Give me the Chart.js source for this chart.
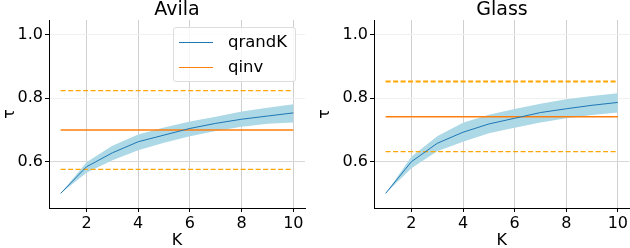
<!DOCTYPE html>
<html>
<head>
<meta charset="UTF-8">
<title>qrandK vs qinv</title>
<script src="https://cdn.jsdelivr.net/npm/chart.js@4.4.0/dist/chart.umd.min.js"></script>
<style>
  body { margin: 0; background: #fff; font-family: "DejaVu Sans", sans-serif; }
  .panel { position: absolute; top: 0; width: 315px; height: 248px; }
  #left { left: 0; }
  #right { left: 315px; }
  .ttl { position: absolute; top: -3px; font-size: 19px; line-height: 22px; color: #000; text-align: center; }
  .legend {
    position: absolute; left: 173px; top: 27px; width: 123px; height: 55px;
    border: 1px solid #ddd; border-radius: 3px; background: rgba(255,255,255,0.8);
    font-size: 16.5px; color: #000; box-sizing: border-box;
  }
  .legend div { position: absolute; left: 5px; height: 20px; line-height: 20px; }
  .legend span.sw { position: absolute; left: 0; top: 10px; width: 34px; height: 0; }
  .legend span.tx { position: absolute; left: 49px; top: 0; white-space: nowrap; }
</style>
</head>
<body>
<div class="panel" id="left"><canvas id="chartAvila" width="315" height="248"></canvas>
  <div class="ttl" style="left:49px;width:256px">Avila</div>
  <div class="legend">
    <div style="top:4px"><span class="sw" style="border-top:1px solid #1f77b4"></span><span class="tx">qrandK</span></div>
    <div style="top:29px"><span class="sw" style="border-top:1px solid #ff7f0e"></span><span class="tx">qinv</span></div>
  </div>
</div>
<div class="panel" id="right"><canvas id="chartGlass" width="315" height="248"></canvas>
  <div class="ttl" style="left:59px;width:256px">Glass</div>
</div>
<script>
const kValues = [1, 2, 3, 4, 5, 6, 7, 8, 9, 10];

const avilaMean  = [0.500, 0.584, 0.628, 0.663, 0.684, 0.705, 0.721, 0.734, 0.744, 0.754];
const avilaUpper = [0.500, 0.598, 0.650, 0.686, 0.708, 0.727, 0.742, 0.758, 0.770, 0.781];
const avilaLower = [0.500, 0.565, 0.605, 0.636, 0.660, 0.680, 0.697, 0.710, 0.720, 0.724];
const avilaQinv = 0.700;
const avilaQinvHigh = 0.824;
const avilaQinvLow = 0.576;

const glassMean  = [0.500, 0.600, 0.658, 0.693, 0.719, 0.737, 0.755, 0.767, 0.778, 0.787];
const glassUpper = [0.500, 0.616, 0.680, 0.723, 0.748, 0.766, 0.783, 0.797, 0.807, 0.816];
const glassLower = [0.500, 0.579, 0.633, 0.663, 0.690, 0.707, 0.724, 0.737, 0.747, 0.755];
const glassQinv = 0.742;
const glassQinvHigh = 0.853;
const glassQinvLow = 0.632;

const xTicks = [2, 4, 6, 8, 10];
const yTicks = [0.6, 0.8, 1.0];

const FONT = "'DejaVu Sans', sans-serif";
const TICK_SIZE = 16;

function pts(ys) {
  return ys.map((y, i) => ({ x: kValues[i], y: y }));
}
function hline(v) {
  return [{ x: kValues[0], y: v }, { x: kValues[kValues.length - 1], y: v }];
}

function makeChart(id, mean, upper, lower, qinv, qHigh, qLow, yAxisWidth, padRight, dashHighWidth) {
  const ctx = document.getElementById(id);
  return new Chart(ctx, {
    type: 'line',
    data: {
      datasets: [
        { label: 'upper', data: pts(upper), order: 10, borderWidth: 0, pointRadius: 0, fill: false, borderColor: 'rgba(0,0,0,0)' },
        { label: 'lower', data: pts(lower), order: 10, borderWidth: 0, pointRadius: 0, fill: '-1', backgroundColor: '#add8e6', borderColor: 'rgba(0,0,0,0)' },
        { label: 'qrandK', data: pts(mean), order: 0, borderColor: '#1f77b4', borderWidth: 1, pointRadius: 0, tension: 0 },
        { label: 'qinv', data: hline(qinv), order: 1, borderColor: '#ff7f0e', borderWidth: 1.5, pointRadius: 0 },
        { label: 'qinvHigh', data: hline(qHigh), order: 2, borderColor: '#ffa500', borderWidth: dashHighWidth, borderDash: [5, 2.5], pointRadius: 0 },
        { label: 'qinvLow', data: hline(qLow), order: 2, borderColor: '#ffa500', borderWidth: 1.2, borderDash: [5, 2.5], pointRadius: 0 },
      ],
    },
    options: {
      responsive: false,
      animation: false,
      layout: { padding: { top: 20, right: padRight, left: 0, bottom: 0 } },
      plugins: {
        legend: { display: false },
        tooltip: { enabled: false },
        title: { display: false },
      },
      scales: {
        x: {
          type: 'linear', min: 0.55, max: 10.45,
          afterBuildTicks: (s) => { s.ticks = xTicks.map(v => ({ value: v })); },
          afterFit: (s) => { s.height = 40; },
          ticks: { color: '#000', font: { family: FONT, size: TICK_SIZE }, padding: 2, maxRotation: 0, autoSkip: false },
          grid: { color: '#d0d0d0', lineWidth: 1, drawTicks: true, tickLength: 4, tickColor: '#000' },
          border: { display: true, color: '#000', width: 1 },
          title: { display: true, text: 'K', color: '#000', font: { family: FONT, size: 16 }, padding: { top: 0, bottom: -2 } },
        },
        y: {
          type: 'linear', min: 0.454, max: 1.047,
          afterBuildTicks: (s) => { s.ticks = yTicks.map(v => ({ value: v })); },
          afterFit: (s) => { s.width = yAxisWidth; },
          ticks: { color: '#000', font: { family: FONT, size: TICK_SIZE }, padding: 2, autoSkip: false, callback: (v) => v.toFixed(1) },
          grid: { color: (c) => c.tick && c.tick.value === 0.6 ? '#d8d8d8' : '#f0f0f0', lineWidth: 1, tickLength: 4, tickColor: '#000' },
          border: { display: true, color: '#000', width: 1 },
          title: { display: true, text: 'τ', color: '#000', font: { family: FONT, size: 16 }, padding: { top: 0, bottom: 0 } },
        },
      },
    },
  });
}

makeChart('chartAvila', avilaMean, avilaUpper, avilaLower, avilaQinv, avilaQinvHigh, avilaQinvLow, 49, 10, 1.2);
makeChart('chartGlass', glassMean, glassUpper, glassLower, glassQinv, glassQinvHigh, glassQinvLow, 59, 0, 2);
</script>
</body>
</html>
